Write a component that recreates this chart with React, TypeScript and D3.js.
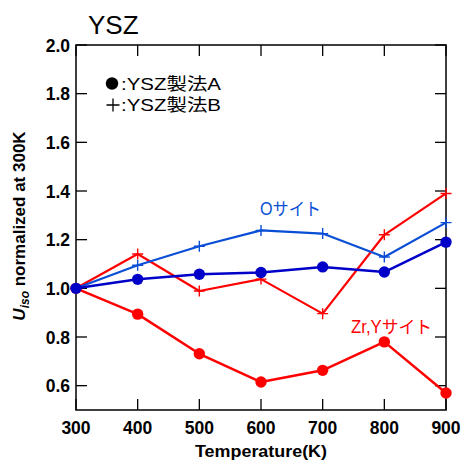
import React from "react";
import * as d3 from "d3";

const temps = [300, 400, 500, 600, 700, 800, 900];
const oSiteA = [1.0, 1.037, 1.058, 1.065, 1.088, 1.067, 1.19];
const oSiteB = [1.0, 1.095, 1.173, 1.238, 1.225, 1.129, 1.27];
const zrSiteA = [1.0, 0.894, 0.731, 0.615, 0.663, 0.78, 0.57];
const zrSiteB = [1.0, 1.141, 0.989, 1.038, 0.896, 1.22, 1.39];
const xTicks = [300, 400, 500, 600, 700, 800, 900];
const yTicks = [0.6, 0.8, 1.0, 1.2, 1.4, 1.6, 1.8, 2.0];

const RED = "#ff0000";
const BLUE_A = "#0000c8";
const BLUE_B = "#0a4ed6";
const FONT = "'Liberation Sans', Arial, 'Noto Sans CJK JP', sans-serif";

export default function App() {
  const W = 465, H = 463;
  const L = 76, R = 446, T = 45, B = 410;
  const x = d3.scaleLinear().domain([300, 900]).range([L, R]);
  const y = d3.scaleLinear().domain([0.5, 2.0]).range([B, T]);
  const line = d3.line<number>().x((_, i) => x(temps[i])).y((d) => y(d));
  const tick = 11;

  const series = [
    { data: zrSiteB, color: RED, marker: "plus", w: 2.2 },
    { data: oSiteB, color: BLUE_B, marker: "plus", w: 2.2 },
    { data: zrSiteA, color: RED, marker: "circle", w: 2.5 },
    { data: oSiteA, color: BLUE_A, marker: "circle", w: 2.5 },
  ];

  return (
    <svg width={W} height={H} style={{ position: "absolute", left: 0, top: 0 }} fontFamily={FONT}>
      <rect width={W} height={H} fill="#fff" />
      {xTicks.map((t) => (
        <g key={"xt" + t}>
          <line x1={x(t)} x2={x(t)} y1={B} y2={B - tick} stroke="#000" strokeWidth={1.3} />
          <line x1={x(t)} x2={x(t)} y1={T} y2={T + tick} stroke="#000" strokeWidth={1.3} />
          <text x={x(t)} y={434} textAnchor="middle" fontWeight="bold" fontSize={17.5}>{t}</text>
        </g>
      ))}
      {yTicks.map((t) => (
        <g key={"yt" + t}>
          <line x1={L} x2={L + tick} y1={y(t)} y2={y(t)} stroke="#000" strokeWidth={1.3} />
          <line x1={R} x2={R - tick} y1={y(t)} y2={y(t)} stroke="#000" strokeWidth={1.3} />
          <text x={70} y={y(t) + 6.5} textAnchor="end" fontWeight="bold" fontSize={17.5}>{t.toFixed(1)}</text>
        </g>
      ))}
      <rect x={L} y={T} width={R - L} height={B - T} fill="none" stroke="#000" strokeWidth={1.5} />

      {series.map((s, si) => (
        <g key={"s" + si}>
          <path d={line(s.data) || ""} fill="none" stroke={s.color} strokeWidth={s.w} strokeLinejoin="round" />
          {s.data.map((v, i) =>
            s.marker === "circle" ? (
              <circle key={i} cx={x(temps[i])} cy={y(v)} r={5.7} fill={s.color} />
            ) : (
              <path
                key={i}
                d={`M${x(temps[i]) - 5.5},${y(v)}H${x(temps[i]) + 5.5}M${x(temps[i])},${y(v) - 5.5}V${y(v) + 5.5}`}
                stroke={s.color}
                strokeWidth={1.4}
              />
            )
          )}
        </g>
      ))}

      <text x={88} y={34} fontSize={26}>YSZ</text>

      <circle cx={112} cy={83.5} r={6.2} fill="#000" />
      <text x={121} y={89.5} fontSize={17} textLength={100} lengthAdjust="spacingAndGlyphs">:YSZ製法A</text>
      <path d="M106.5,105H119.5M113,98.5V111.5" stroke="#000" strokeWidth={1.3} />
      <text x={121} y={111} fontSize={17} textLength={100} lengthAdjust="spacingAndGlyphs">:YSZ製法B</text>

      <text x={260} y={215} fontSize={17.5} fill={BLUE_B} textLength={61} lengthAdjust="spacingAndGlyphs">Oサイト</text>
      <text x={351} y={333} fontSize={17.5} fill={RED} textLength={81} lengthAdjust="spacingAndGlyphs">Zr,Yサイト</text>

      <text x={195} y={457} fontWeight="bold" fontSize={17} textLength={132} lengthAdjust="spacingAndGlyphs">Temperature(K)</text>
      <text transform="translate(25,226) rotate(-90)" textAnchor="middle" fontWeight="bold" fontSize={17}>
        <tspan fontStyle="italic">U</tspan>
        <tspan fontStyle="italic" fontSize={12} dy={4}>iso</tspan>
        <tspan dy={-4}> normalized at 300K</tspan>
      </text>
    </svg>
  );
}
